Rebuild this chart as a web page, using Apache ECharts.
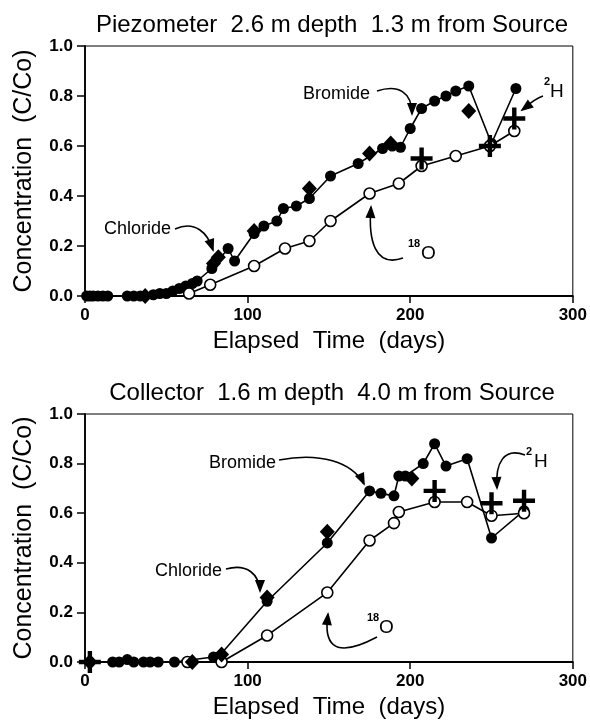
<!DOCTYPE html>
<html><head><meta charset="utf-8">
<script src="https://cdn.jsdelivr.net/npm/echarts@6/dist/echarts.min.js"></script>
<style>html,body{margin:0;padding:0;background:#fff}#c{width:590px;height:723px}</style>
</head><body><div id="c"></div>
<script>
// ---- Data (days, C/Co) ----
const topTitle = 'Piezometer  2.6 m depth  1.3 m from Source';
const botTitle = 'Collector  1.6 m depth  4.0 m from Source';
const xTicks = [0, 100, 200, 300];
const yTicks = [0.0, 0.2, 0.4, 0.6, 0.8, 1.0];

const topBromide = [[1,0],[3,0],[5,0],[8,0],[11,0],[14,0],[26,0],[30,0],[34,0],[42,0.005],[46,0.01],[50,0.01],[54,0.02],[58,0.03],[62,0.04],[66,0.05],[69,0.06],[78,0.11],[88,0.19],[92,0.14],[104,0.25],[110,0.28],[118,0.30],[122,0.35],[130,0.36],[138,0.39],[151,0.48],[168,0.53],[183,0.59],[189,0.60],[194,0.595],[200,0.67],[207,0.75],[215,0.78],[222,0.80],[228,0.82],[236,0.84],[250,0.61],[265,0.83]];
const topChloride = [[37,0],[79,0.13],[82,0.155],[104,0.26],[138,0.43],[175,0.57],[188,0.61],[236,0.74]];
const topO18 = [[64,0.01],[77,0.045],[104,0.12],[123,0.19],[138,0.22],[151,0.30],[175,0.41],[193,0.45],[207,0.52],[228,0.56],[249,0.60],[264,0.66]];
const topH2 = [[207,0.55],[249,0.60],[264,0.71]];

const botBromide = [[3,0],[17,0],[21,0],[26,0.01],[30,0],[36,0],[40,0],[45,0],[55,0],[79,0.02],[82,0.02],[112,0.245],[149,0.48],[175,0.69],[182,0.68],[190,0.67],[193,0.75],[197,0.75],[208,0.80],[215,0.88],[222,0.79],[235,0.82],[250,0.50],[270,0.61]];
const botChloride = [[3,0],[66,0],[84,0.03],[112,0.26],[149,0.525],[201,0.74]];
const botO18 = [[63,0],[84,0],[112,0.107],[149,0.28],[175,0.49],[190,0.56],[193,0.605],[215,0.645],[235,0.645],[250,0.59],[270,0.60]];
const botH2 = [[3,0],[215,0.69],[250,0.64],[270,0.65]];

// ---- Chart ----
const FONT = '"Liberation Sans", Arial, sans-serif';
const plusPath = 'path://M-2,-10 H2 V-2 H10 V2 H2 V10 H-2 V2 H-10 V-2 H-2 Z';
const chart = echarts.init(document.getElementById('c'), null, {renderer: 'canvas'});

function xAxis(gi) {
  return {
    gridIndex: gi, type: 'value', min: 0, max: 300, interval: 100,
    name: 'Elapsed  Time  (days)', nameLocation: 'middle', nameGap: 33,
    nameTextStyle: {fontFamily: FONT, fontSize: 24, color: '#000'},
    axisLine: {show: true, onZero: false, lineStyle: {color: '#000', width: 1.8}},
    axisTick: {show: true, inside: false, length: 7, lineStyle: {color: '#000', width: 1.5}},
    axisLabel: {fontFamily: FONT, fontSize: 17, fontWeight: 'bold', color: '#000', margin: 11,
      formatter: v => xTicks.includes(v) ? String(v) : ''},
    splitLine: {show: false}
  };
}
function yAxis(gi) {
  return {
    gridIndex: gi, type: 'value', min: 0, max: 1, interval: 0.2,
    name: 'Concentration  (C/Co)', nameLocation: 'middle', nameGap: 48, nameRotate: 90,
    nameTextStyle: {fontFamily: FONT, fontSize: 25, color: '#000'},
    axisLine: {show: true, lineStyle: {color: '#000', width: 1.8}},
    axisTick: {show: true, length: 8, lineStyle: {color: '#000', width: 1.5}},
    axisLabel: {fontFamily: FONT, fontSize: 17, fontWeight: 'bold', color: '#000', margin: 12,
      formatter: v => yTicks.some(t => Math.abs(t - v) < 1e-6) ? v.toFixed(1) : ''},
    splitLine: {show: false}
  };
}
function seriesFor(gi, bro, chl, o18, h2) {
  return [
    {type: 'line', xAxisIndex: gi, yAxisIndex: gi, data: bro, symbol: 'circle', symbolSize: 11,
      itemStyle: {color: '#000', opacity: 1}, lineStyle: {color: '#000', width: 1.6}, z: 3, animation: false},
    {type: 'line', xAxisIndex: gi, yAxisIndex: gi, data: o18, symbol: 'circle', symbolSize: 11,
      itemStyle: {color: '#fff', borderColor: '#000', borderWidth: 1.6, opacity: 1}, lineStyle: {color: '#000', width: 1.6}, z: 4, animation: false},
    {type: 'scatter', xAxisIndex: gi, yAxisIndex: gi, data: chl, symbol: 'diamond', symbolSize: [15, 16],
      itemStyle: {color: '#000', opacity: 1}, z: 5, animation: false},
    {type: 'scatter', xAxisIndex: gi, yAxisIndex: gi, data: h2, symbol: plusPath, symbolSize: 22,
      itemStyle: {color: '#000', opacity: 1}, z: 6, animation: false}
  ];
}

function arrow(p0, c1, c2, tip, dir) {
  const els = [{
    type: 'bezierCurve', shape: {x1: p0[0], y1: p0[1], cpx1: c1[0], cpy1: c1[1], cpx2: c2[0], cpy2: c2[1], x2: tip[0], y2: tip[1]},
    style: {stroke: '#000', lineWidth: 1.6, fill: null}
  }];
  const a = Math.atan2(dir[1], dir[0]);
  const L = 11, W = 5;
  const bx = tip[0] - L * Math.cos(a), by = tip[1] - L * Math.sin(a);
  const tx = tip[0] + 2 * Math.cos(a), ty = tip[1] + 2 * Math.sin(a);
  els.push({type: 'polygon', shape: {points: [[tx, ty], [bx - W * Math.sin(a), by + W * Math.cos(a)], [bx + W * Math.sin(a), by - W * Math.cos(a)]]},
    style: {fill: '#000'}});
  return els;
}
function label(text, x, y) {
  return {type: 'text', x: x, y: y, style: {text: text, font: '18px ' + FONT, fill: '#000', textVerticalAlign: 'middle'}};
}
function iso(mass, sym, x, y, symDx) {
  return [
    {type: 'text', x: x, y: y - 8, style: {text: mass, font: 'bold 11px ' + FONT, fill: '#000', textVerticalAlign: 'middle'}},
    {type: 'text', x: x + symDx, y: y + 2, style: {text: sym, font: '19px ' + FONT, fill: '#000', textVerticalAlign: 'middle'}}
  ];
}

const graphics = [].concat(
  // top panel annotations
  label('Bromide', 303, 94),
  arrow([377, 91], [398, 84], [412, 92], [412, 114], [0, 1]),
  label('Chloride', 104, 229),
  arrow([175, 229], [195, 220], [208, 233], [213, 250], [0.35, 1]),
  iso('18', 'O', 408, 252, 13),
  arrow([403, 258], [375, 268], [368, 240], [371, 207], [0.05, -1]),
  iso('2', 'H', 544, 90, 6),
  arrow([543, 96], [536, 98], [530, 103], [522, 110], [-1, 0.75]),
  // bottom panel annotations
  label('Bromide', 209, 463),
  arrow([279, 460], [320, 452], [352, 462], [364, 484], [0.45, 1]),
  label('Chloride', 155, 571),
  arrow([226, 569], [248, 563], [259, 575], [260, 591], [0, 1]),
  iso('18', 'O', 367, 626, 12),
  arrow([377, 637], [330, 662], [324, 640], [328, 614], [0.1, -1]),
  iso('2', 'H', 526, 460, 8),
  arrow([525, 455], [504, 447], [495, 463], [497, 488], [0.05, 1])
);

chart.setOption({
  animation: false,
  backgroundColor: '#fff',
  title: [
    {text: topTitle, left: 327, top: 8, textAlign: 'center', textStyle: {fontFamily: FONT, fontSize: 24, fontWeight: 'normal', color: '#000'}},
    {text: botTitle, left: 327, top: 376, textAlign: 'center', textStyle: {fontFamily: FONT, fontSize: 24, fontWeight: 'normal', color: '#000'}}
  ],
  grid: [
    {left: 85, right: 14, top: 46, height: 250, show: true, borderColor: '#000', borderWidth: 1, backgroundColor: 'transparent'},
    {left: 85, right: 14, top: 414, height: 248, show: true, borderColor: '#000', borderWidth: 1, backgroundColor: 'transparent'}
  ],
  xAxis: [xAxis(0), xAxis(1)],
  yAxis: [yAxis(0), yAxis(1)],
  series: [].concat(seriesFor(0, topBromide, topChloride, topO18, topH2), seriesFor(1, botBromide, botChloride, botO18, botH2)),
  graphic: graphics
});
</script></body></html>
